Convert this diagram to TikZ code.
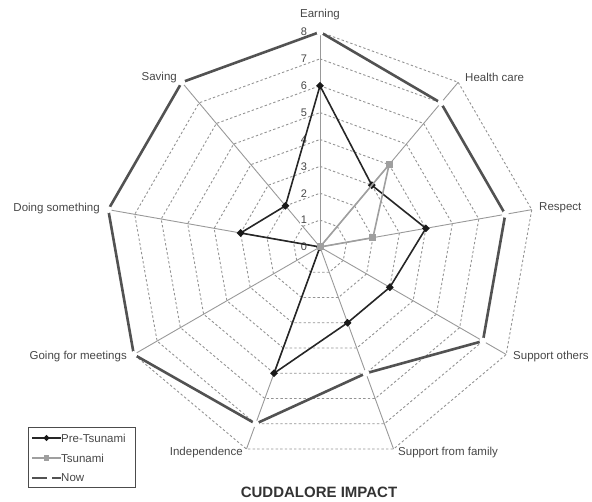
\documentclass[tikz,border=0pt]{standalone}
\usepackage{fontspec}
\setmainfont{Liberation Sans}
\usetikzlibrary{shapes.geometric}

\begin{document}
\begin{tikzpicture}[
  x=1pt,y=1pt,
  gridring/.style={draw=gray!85,dash pattern=on 2.4pt off 2.2pt,line width=0.9pt},
  spoke/.style={draw=gray!80,line width=0.9pt},
  axislabel/.style={font=\fontsize{11.5}{13}\selectfont,text=black!72,inner sep=1pt},
  scalelabel/.style={font=\fontsize{11}{13}\selectfont,text=black!72,
                     fill=white,inner sep=0.6pt},
  preline/.style={draw=black!85,line width=1.6pt,line join=round},
  tsuline/.style={draw=gray!75,line width=1.6pt,line join=round},
  nowline/.style={draw=black!68,line width=2.6pt,line join=round},
  premark/.style={diamond,fill=black!90,minimum size=8pt,inner sep=0pt},
  tsumark/.style={rectangle,fill=gray!75,minimum size=7pt,inner sep=0pt},
  nowmark/.style={circle,fill=white,minimum size=7pt,inner sep=0pt},
  legendbox/.style={draw=black!70,line width=0.9pt}
]
\useasboundingbox (0,0) rectangle (592,502);
\def\u{26.875}
\begin{scope}[shift={(320,255)}]
  \foreach \k in {1,...,8}
    \draw[gridring] (90:{\k*\u}) \foreach \i in {1,...,8}{--({90-40*\i}:{\k*\u})} -- cycle;
  \foreach \i in {0,...,8}
    \draw[spoke] (0,0) -- ({90-40*\i}:{8*\u});
  \foreach \k in {0,...,8}
    \node[scalelabel] (s\k) at (-16,{\k*\u}) {\k};

  \foreach \v [count=\i from 0] in {6,3,4,3,3,5,0,3,2}
    \coordinate (p\i) at ({90-40*\i}:{\v*\u});
  \foreach \v [count=\i from 0] in {0,4,2,0,0,0,0,0,0}
    \coordinate (t\i) at ({90-40*\i}:{\v*\u});
  \foreach \v [count=\i from 0] in {8,7,7,7,5,7,8,8,8}
    \coordinate (n\i) at ({90-40*\i}:{\v*\u});

  \draw[preline] (p0) \foreach \i in {1,...,8}{--(p\i)} -- cycle;
  \foreach \i in {0,...,8}
    \node[premark] (pm\i) at (p\i) {};
  \draw[tsuline] (t0) \foreach \i in {1,...,8}{--(t\i)} -- cycle;
  \foreach \i in {0,...,8}
    \node[tsumark] (tm\i) at (t\i) {};
  \draw[nowline] (n0) \foreach \i in {1,...,8}{--(n\i)} -- cycle;
  \foreach \i in {0,...,8}
    \node[nowmark] (nm\i) at (n\i) {};

  \node[axislabel] (l0) at (0,232) {Earning};
  \node[axislabel,anchor=west] (l1) at (144,170) {Health care};
  \node[axislabel,anchor=west] (l2) at (218,39) {Respect};
  \node[axislabel,anchor=west] (l3) at (192,-110) {Support others};
  \node[axislabel,anchor=west] (l4) at (77,-206) {Support from family};
  \node[axislabel,anchor=east] (l5) at (-76,-206) {Independence};
  \node[axislabel,anchor=east] (l6) at (-192,-110) {Going for meetings};
  \node[axislabel,anchor=east] (l7) at (-219,38) {Doing something};
  \node[axislabel,anchor=east] (l8) at (-142,169) {Saving};
\end{scope}

\draw[legendbox] (28,15) rectangle (135,75);
\draw[preline,line width=1.3pt] (32,64) -- (61,64);
\node[premark,minimum size=6.5pt] (k0) at (46.5,64) {};
\node[axislabel,anchor=west] (kt0) at (60,64) {Pre-Tsunami};
\draw[tsuline,line width=1.3pt] (32,44) -- (61,44);
\node[tsumark,minimum size=5.5pt] (k1) at (46.5,44) {};
\node[axislabel,anchor=west] (kt1) at (60,44) {Tsunami};
\draw[nowline,line width=1.6pt,dash pattern=on 15pt off 5pt] (32,24) -- (61,24);
\node[axislabel,anchor=west] (kt2) at (60,24) {Now};

\node[font=\fontsize{15}{18}\selectfont\bfseries,text=black!80] (title) at (319,10)
  {CUDDALORE IMPACT};
\end{tikzpicture}
\end{document}
